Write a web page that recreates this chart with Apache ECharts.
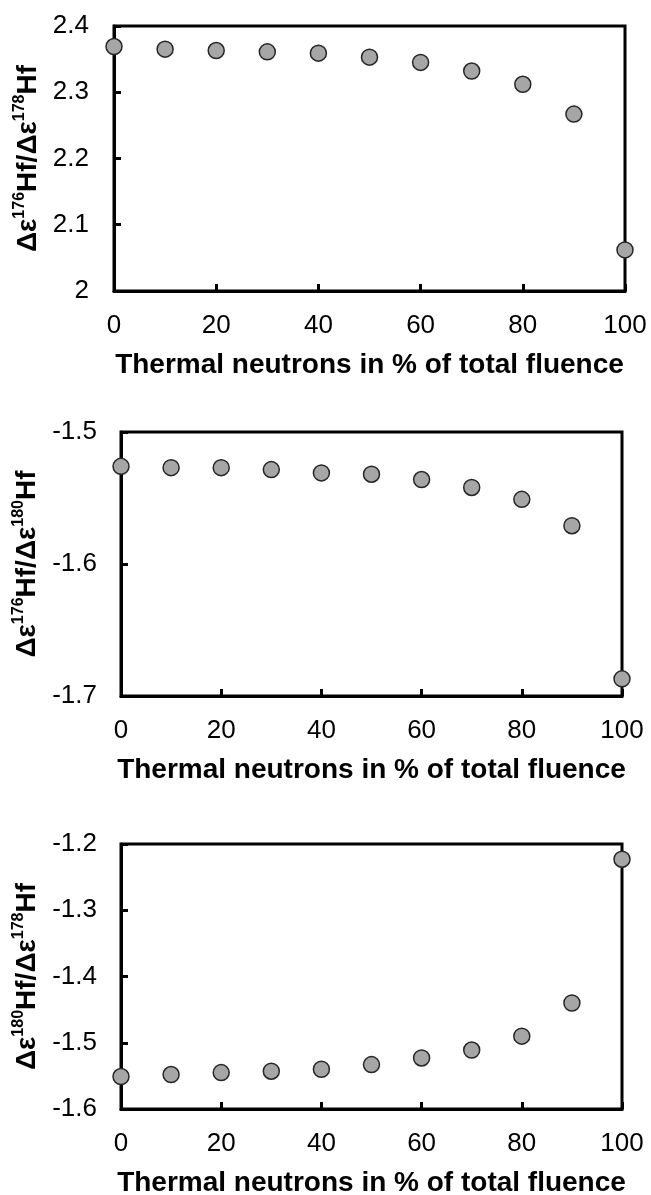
<!DOCTYPE html>
<html>
<head>
<meta charset="utf-8">
<style>
  html, body { margin: 0; padding: 0; background: #fff; }
  #chart { width: 651px; height: 1195px; }
</style>
<script src="https://cdn.jsdelivr.net/npm/echarts@6/dist/echarts.min.js"></script>
</head>
<body>
<div id="chart"></div>
<script>
// Share of thermal neutrons in the total fluence (%)
const fluence = [0, 10, 20, 30, 40, 50, 60, 70, 80, 90, 100];

// Δε176Hf / Δε178Hf
const ratio176over178 = [2.369, 2.365, 2.363, 2.361, 2.359, 2.353, 2.345, 2.332, 2.312, 2.267, 2.062];
// Δε176Hf / Δε180Hf
const ratio176over180 = [-1.526, -1.527, -1.527, -1.5285, -1.531, -1.532, -1.536, -1.542, -1.551, -1.571, -1.687];
// Δε180Hf / Δε178Hf
const ratio180over178 = [-1.551, -1.548, -1.545, -1.543, -1.540, -1.533, -1.523, -1.511, -1.490, -1.440, -1.223];

const xTitle = 'Thermal neutrons in % of total fluence';
const yTitles = [
  '{m|Δε}{s|176}{m|Hf/Δε}{s|178}{m|Hf}',
  '{m|Δε}{s|176}{m|Hf/Δε}{s|180}{m|Hf}',
  '{m|Δε}{s|180}{m|Hf/Δε}{s|178}{m|Hf}'
];
const yRanges = [
  { min: 2.0, max: 2.4 },
  { min: -1.7, max: -1.5 },
  { min: -1.6, max: -1.2 }
];
const panelSeries = [ratio176over178, ratio176over180, ratio180over178];

const FONT = '"Liberation Sans", Arial, sans-serif';

const grids = [
  { left: 114, top: 26, width: 511, height: 265 },
  { left: 121, top: 432, width: 501, height: 264 },
  { left: 121, top: 844, width: 501, height: 265 }
];
const yNameGaps = [64, 71, 71];
const yLabelMargins = [25, 24, 24];

const option = {
  backgroundColor: '#ffffff',
  animation: false,
  grid: grids.map(g => Object.assign({
    show: true,
    borderColor: '#000',
    borderWidth: 3,
    backgroundColor: 'transparent',
    containLabel: false,
    outerBoundsMode: 'none'
  }, g)),
  xAxis: grids.map((g, i) => ({
    type: 'value',
    gridIndex: i,
    min: 0,
    max: 100,
    interval: 20,
    name: xTitle,
    nameLocation: 'middle',
    nameGap: 60,
    nameTextStyle: { fontFamily: FONT, fontSize: 28, fontWeight: 'bold', color: '#000', lineHeight: 28 },
    axisLine: { show: true, onZero: false, lineStyle: { color: '#000', width: 3 } },
    axisTick: { show: true, inside: true, length: 7, lineStyle: { color: '#000', width: 3 } },
    axisLabel: { fontFamily: FONT, fontSize: 26, color: '#000', margin: 22 },
    splitLine: { show: false }
  })),
  yAxis: grids.map((g, i) => ({
    type: 'value',
    gridIndex: i,
    min: yRanges[i].min,
    max: yRanges[i].max,
    interval: 0.1,
    name: yTitles[i],
    nameLocation: 'middle',
    nameRotate: 90,
    nameGap: yNameGaps[i],
    nameTextStyle: {
      color: '#000',
      rich: {
        m: { fontFamily: FONT, fontSize: 28, fontWeight: 'bold', color: '#000', lineHeight: 33 },
        s: { fontFamily: FONT, fontSize: 16, fontWeight: 'bold', color: '#000', lineHeight: 16, verticalAlign: 'top' }
      }
    },
    axisLine: { show: true, onZero: false, lineStyle: { color: '#000', width: 3 } },
    axisTick: { show: true, inside: true, length: 7, lineStyle: { color: '#000', width: 3 } },
    axisLabel: { fontFamily: FONT, fontSize: 26, color: '#000', margin: yLabelMargins[i] },
    splitLine: { show: false }
  })),
  series: panelSeries.map((vals, i) => ({
    type: 'scatter',
    xAxisIndex: i,
    yAxisIndex: i,
    clip: false,
    symbol: 'circle',
    symbolSize: 16,
    itemStyle: { color: '#a6a6a6', borderColor: '#262626', borderWidth: 1.5, opacity: 1 },
    data: fluence.map((x, k) => [x, vals[k]])
  }))
};

const chart = echarts.init(document.getElementById('chart'), null, { renderer: 'canvas' });
chart.setOption(option);
</script>
</body>
</html>
